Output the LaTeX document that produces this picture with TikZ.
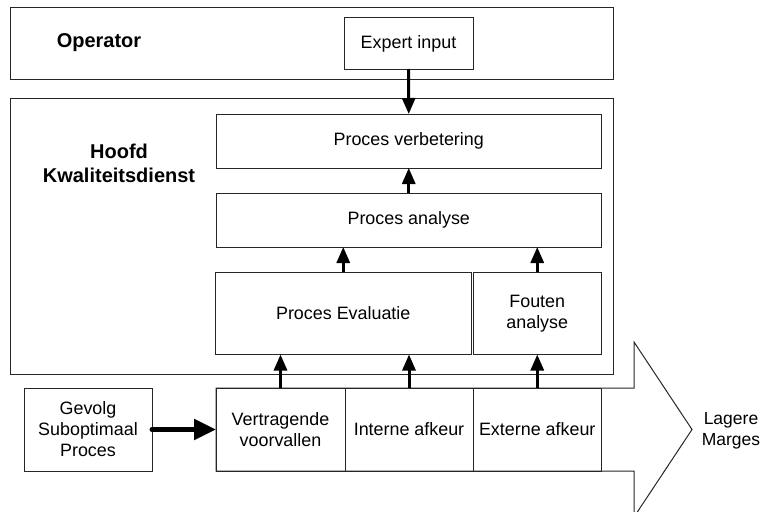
\documentclass[tikz,border=0pt]{standalone}
\usepackage{fontspec}
\setmainfont{Liberation Sans}
\usetikzlibrary{arrows.meta}
\begin{document}
\begin{tikzpicture}[x=1pt,y=-1pt,
  box/.style={draw=black!85,line width=1pt,rectangle,inner sep=0pt,outer sep=0pt,
    align=center,font=\fontsize{17.9}{21}\selectfont},
  lbl/.style={align=center,inner sep=0pt,font=\fontsize{20}{24}\selectfont\bfseries},
  txt/.style={align=center,inner sep=0pt,font=\fontsize{17.5}{21}\selectfont},
  flow/.style={line width=3pt,-{Triangle[length=16pt,width=13pt]}},
  bigflow/.style={line width=5pt,line cap=round,-{Triangle[length=22pt,width=20pt]}}]
\useasboundingbox (0,0) rectangle (765,511);

% block arrow carrying the three kinds of loss
\draw[draw=black!85,line width=1pt]
  (216,388) -- (634,388) -- (634,342) -- (692,429.5) -- (634,517)
  -- (634,471) -- (216,471) -- cycle;

% departments
\node[box,minimum width=603pt,minimum height=71pt] (op) at (311.5,43.5) {};
\node[box,minimum width=603pt,minimum height=276pt] (hk) at (311.5,236) {};
\node[lbl] (oplbl) at (99,43) {Operator};
\node[lbl] (hklbl) at (119,163) {Hoofd\\Kwaliteitsdienst};

% activities
\node[box,minimum width=129pt,minimum height=51pt] (expert) at (408.5,43.5) {Expert input};
\node[box,minimum width=385.5pt,minimum height=54pt] (verb) at (408.75,141) {Proces verbetering};
\node[box,minimum width=385.5pt,minimum height=54pt] (anal) at (408.75,220) {Proces analyse};
\node[box,minimum width=255.5pt,minimum height=82.5pt] (eval) at (343.25,313.25) {Proces Evaluatie};
\node[box,minimum width=128.5pt,minimum height=82.5pt] (fout) at (537.25,313.25) {Fouten\\analyse};

% losses
\node[box,minimum width=129pt,minimum height=83pt] (vert) at (280.5,429.5) {Vertragende\\voorvallen};
\node[box,minimum width=128pt,minimum height=83pt] (intern) at (409,429.5) {Interne afkeur};
\node[box,minimum width=128.5pt,minimum height=83pt] (extern) at (537.25,429.5) {Externe afkeur};
\node[box,minimum width=128pt,minimum height=83pt] (gevolg) at (88,429.5) {Gevolg\\Suboptimaal\\Proces};
\node[txt] (marges) at (731,431) {Lagere\\Marges};

% information flow
\draw[flow] (expert.south) -- (verb.north);
\draw[flow] (anal.north) -- (verb.south);
\draw[flow] (eval.north) -- (eval.north |- anal.south);
\draw[flow] (fout.north) -- (fout.north |- anal.south);
\draw[flow] (vert.north) -- (vert.north |- eval.south);
\draw[flow] (intern.north) -- (intern.north |- eval.south);
\draw[flow] (extern.north) -- (extern.north |- fout.south);
\draw[bigflow] (gevolg.east) -- (vert.west);
\end{tikzpicture}
\end{document}
